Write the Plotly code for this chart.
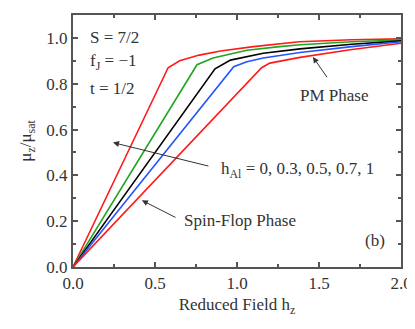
import plotly.graph_objects as go

# Data (reduced field h_z vs mu_z/mu_sat)
x_h1 = [0, 0.58, 0.65, 0.77, 0.9, 1.1, 1.38, 1.7, 2.0]
y_h1 = [0, 0.87, 0.90, 0.925, 0.943, 0.962, 0.983, 0.992, 0.996]

x_h07 = [0, 0.756, 0.854, 1.06, 1.26, 1.384, 1.7, 2.0]
y_h07 = [0, 0.883, 0.912, 0.946, 0.962, 0.970, 0.983, 0.991]

x_h05 = [0, 0.866, 0.96, 1.16, 1.384, 1.7, 2.0]
y_h05 = [0, 0.865, 0.903, 0.933, 0.952, 0.972, 0.987]

x_h03 = [0, 0.98, 1.06, 1.16, 1.384, 1.7, 2.0]
y_h03 = [0, 0.874, 0.896, 0.912, 0.936, 0.962, 0.983]

x_h0 = [0, 1.15, 1.2, 1.384, 1.69, 2.0]
y_h0 = [0, 0.87, 0.89, 0.915, 0.948, 0.977]

series = [
    ("h=1", x_h1, y_h1, "#ff1a1a"),
    ("h=0.7", x_h07, y_h07, "#1fa61f"),
    ("h=0.5", x_h05, y_h05, "#000000"),
    ("h=0.3", x_h03, y_h03, "#2255ff"),
    ("h=0", x_h0, y_h0, "#ff1a1a"),
]

FONT = "Liberation Serif, Times New Roman, Times, serif"
TXT = "#333333"
FS = 17

fig = go.Figure()
for name, xs, ys, c in series:
    fig.add_trace(go.Scatter(x=xs, y=ys, mode="lines", name=name,
                             line=dict(color=c, width=1.6), showlegend=False))

axis_common = dict(
    showline=True, linecolor="#555555", linewidth=2, mirror="ticks",
    ticks="inside", ticklen=5, tickcolor="#555555", tickwidth=1.5,
    showgrid=False, zeroline=False, automargin=False,
    tickfont=dict(family=FONT, size=FS, color=TXT),
)

# page body has an 8px margin, so the figure is shrunk to fit the window
fig.update_layout(
    width=407, height=309,
    margin=dict(l=65, r=14, t=7, b=50, autoexpand=False),
    paper_bgcolor="white", plot_bgcolor="white",
    xaxis=dict(range=[0, 2.0], dtick=0.5, tick0=0, tickformat=".1f",
               minor=dict(dtick=0.25, ticks="inside", ticklen=3, tickcolor="#555555"),
               title=dict(text="Reduced Field h<sub>z</sub>",
                          font=dict(family=FONT, size=FS, color=TXT), standoff=6),
               **axis_common),
    yaxis=dict(range=[0, 1.1], dtick=0.2, tick0=0, tickformat=".1f",
               minor=dict(dtick=0.1, ticks="inside", ticklen=3, tickcolor="#555555"),
               title=dict(text="μ<sub>z</sub>/μ<sub>sat</sub>",
                          font=dict(family=FONT, size=FS, color=TXT), standoff=10),
               **axis_common),
    font=dict(family=FONT, size=FS, color=TXT),
)

def txt(x, y, s, xanchor="left"):
    fig.add_annotation(x=x, y=y, xref="x", yref="y", text=s, showarrow=False,
                       xanchor=xanchor, yanchor="middle",
                       font=dict(family=FONT, size=FS, color=TXT))

txt(0.09, 1.0, "S = 7/2")
txt(0.09, 0.895, "f<sub>J</sub> = −1")
txt(0.09, 0.78, "t = 1/2")
txt(1.77, 0.117, "(b)")
txt(1.37, 0.748, "PM Phase")
txt(0.665, 0.204, "Spin-Flop Phase")
txt(0.89, 0.425, "h<sub>Al</sub> = 0, 0.3, 0.5, 0.7, 1")

def arrow(x0, y0, x1, y1):
    fig.add_annotation(x=x1, y=y1, ax=x0, ay=y0, xref="x", yref="y",
                       axref="x", ayref="y", text="", showarrow=True,
                       arrowhead=2, arrowsize=1.2, arrowwidth=1, arrowcolor="#333333")

arrow(0.835, 0.439, 0.244, 0.543)
arrow(0.634, 0.213, 0.42, 0.291)
arrow(1.555, 0.822, 1.463, 0.917)

fig.write_html("out.html")
